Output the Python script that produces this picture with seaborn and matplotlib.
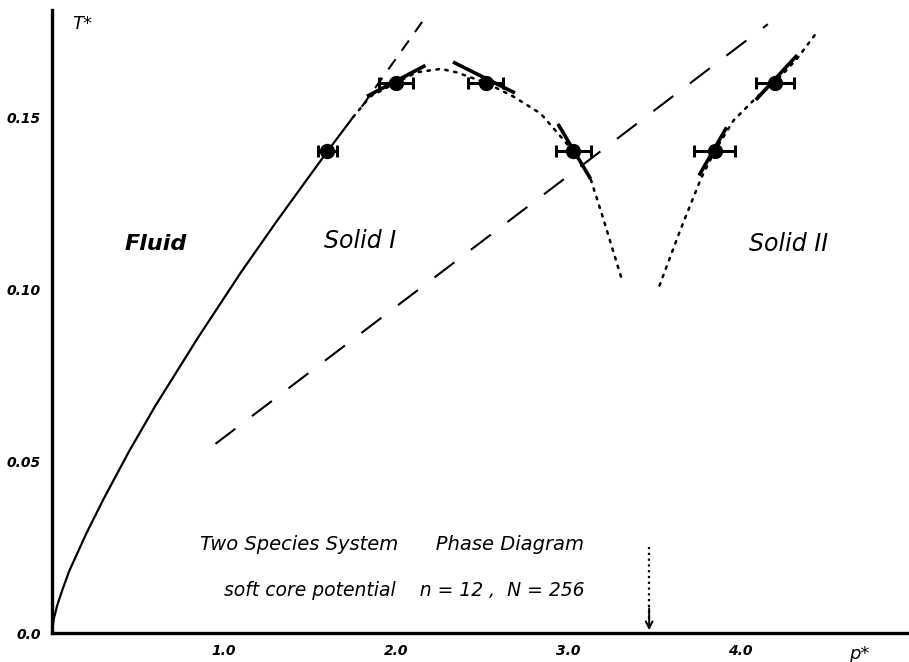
import numpy as np
import matplotlib.pyplot as plt
import seaborn as sns

# fluid / solid I boundary (solid line)
fluid_p = [0.0, 0.01, 0.03, 0.06, 0.10, 0.20, 0.30, 0.45, 0.60, 0.85, 1.10, 1.31, 1.60, 1.75]
fluid_T = [0.0, 0.004, 0.008, 0.0125, 0.018, 0.029, 0.039, 0.053, 0.066, 0.086, 0.105, 0.120, 0.140, 0.150]

# dotted boundary of solid I
solid1_p = [1.75, 1.85, 2.00, 2.12, 2.26, 2.35, 2.52, 2.68, 2.84, 2.97, 3.03, 3.13, 3.20, 3.31]
solid1_T = [0.150, 0.156, 0.160, 0.163, 0.164, 0.163, 0.160, 0.156, 0.151, 0.1435, 0.140, 0.132, 0.121, 0.103]

# dotted boundary of solid II
solid2_p = [3.53, 3.65, 3.77, 3.85, 3.96, 4.10, 4.20, 4.33, 4.45]
solid2_T = [0.101, 0.117, 0.132, 0.140, 0.149, 0.156, 0.160, 0.167, 0.175]

# simulation points with error bars in p*
pts_p = [1.60, 2.00, 2.52, 3.03, 3.85, 4.20]
pts_T = [0.140, 0.160, 0.160, 0.140, 0.140, 0.160]
pts_err = [0.055, 0.10, 0.10, 0.10, 0.12, 0.11]

# short tangent strokes through the points (start, end)
tan_p = [(1.83, 2.17), (2.33, 2.69), (2.94, 3.13), (3.76, 3.92), (4.09, 4.33)]
tan_T = [(0.156, 0.165), (0.166, 0.157), (0.148, 0.132), (0.133, 0.147), (0.155, 0.168)]

# dashed lines
steep_p = [1.80, 2.17]
steep_T = [0.153, 0.179]
long_p = [0.95, 4.16]
long_T = [0.055, 0.177]

arrow_p = 3.47

sns.set_style("white")
plt.rcParams['font.family'] = ['DejaVu Sans']
plt.rcParams['text.color'] = 'black'

fig = plt.figure(figsize=(9.09, 6.62), dpi=100)
ax = fig.add_axes([0.0572, 0.0438, 0.9428, 0.941])

sns.lineplot(x=fluid_p, y=fluid_T, sort=False, estimator=None, color='black', lw=1.6, ax=ax)
sns.lineplot(x=solid1_p, y=solid1_T, sort=False, estimator=None, color='black', lw=1.8,
             linestyle=(0, (1, 2.6)), dash_capstyle='round', ax=ax)
sns.lineplot(x=solid2_p, y=solid2_T, sort=False, estimator=None, color='black', lw=1.8,
             linestyle=(0, (1, 2.6)), dash_capstyle='round', ax=ax)
sns.lineplot(x=steep_p, y=steep_T, sort=False, estimator=None, color='black', lw=1.5,
             linestyle=(0, (6, 5)), ax=ax)
sns.lineplot(x=long_p, y=long_T, sort=False, estimator=None, color='black', lw=1.5,
             linestyle=(0, (12, 10)), ax=ax)

for tp, tT in zip(tan_p, tan_T):
    ax.plot(tp, tT, color='black', lw=2.6, solid_capstyle='butt')

ax.errorbar(pts_p, pts_T, xerr=pts_err, fmt='o', color='black', ms=10,
            elinewidth=2.2, capsize=4, capthick=2.2)

# dotted arrow marking p* ~ 3.47
ax.plot([arrow_p, arrow_p], [0.025, 0.004], color='black', lw=1.6,
        linestyle=(0, (1, 1.6)))
ax.annotate('', xy=(arrow_p, 0.0), xytext=(arrow_p, 0.008),
            arrowprops=dict(arrowstyle='->', color='black', lw=1.4,
                            mutation_scale=12))

ax.set_xlim(0, 4.98)
ax.set_ylim(0, 0.1811)
ax.set_xticks([1.0, 2.0, 3.0, 4.0])
ax.set_xticklabels(['1.0', '2.0', '3.0', '4.0'], style='italic', weight='bold', fontsize=10)
ax.set_yticks([0.0, 0.05, 0.10, 0.15])
ax.set_yticklabels(['0.0', '0.05', '0.10', '0.15'], style='italic', weight='bold', fontsize=10)
ax.tick_params(direction='in', length=5, width=1.5, pad=8, colors='black')
for side in ['top', 'right']:
    ax.spines[side].set_visible(False)
for side in ['left', 'bottom']:
    ax.spines[side].set_linewidth(2.4)
    ax.spines[side].set_color('black')
ax.set_xlabel('')
ax.set_ylabel('')

ax.text(0.12, 0.177, 'T*', fontsize=13, style='italic', va='center')
ax.text(4.63, -0.006, 'p*', fontsize=13, style='italic', va='center', clip_on=False)
ax.text(0.60, 0.113, 'Fluid', fontsize=16, style='italic', weight='bold', ha='center', va='center')
ax.text(1.79, 0.114, 'Solid I', fontsize=17, style='italic', ha='center', va='center')
ax.text(4.28, 0.113, 'Solid II', fontsize=17, style='italic', ha='center', va='center')
ax.text(0.86, 0.0256, 'Two Species System      Phase Diagram', fontsize=14,
        style='italic', va='center')
ax.text(1.00, 0.0125, 'soft core potential    n = 12 ,  N = 256', fontsize=13.5,
        style='italic', va='center')

fig.savefig('out.png', dpi=100)
